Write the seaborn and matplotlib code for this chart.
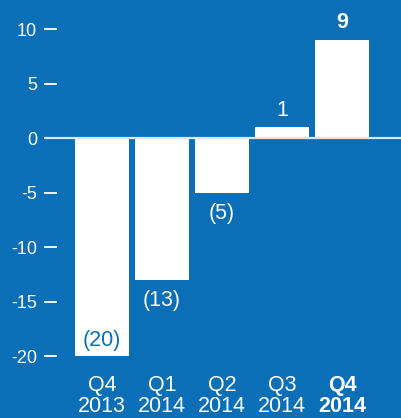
import matplotlib
matplotlib.use("Agg")
import matplotlib.pyplot as plt
import seaborn as sns
import pandas as pd

# Quarterly values
quarters = ["Q4\n2013", "Q1\n2014", "Q2\n2014", "Q3\n2014", "Q4\n2014"]
values = [-20, -13, -5, 1, 9]
value_labels = ["(20)", "(13)", "(5)", "1", "9"]
y_ticks = [10, 5, 0, -5, -10, -15, -20]

BLUE = "#0a6fb6"

sns.set_theme(style="white")
plt.rcParams["font.family"] = ["Liberation Sans", "DejaVu Sans"]

df = pd.DataFrame({"quarter": quarters, "value": values})

fig = plt.figure(figsize=(4.01, 4.18), dpi=100, facecolor=BLUE)
# axes spans x pixels 44..401 and y pixels 0..360
ax = fig.add_axes([44 / 401, 1 - 360 / 418, (401 - 44) / 401, 360 / 418])
ax.set_facecolor(BLUE)

sns.barplot(data=df, x="quarter", y="value", color="white", width=0.9,
            saturation=1, ax=ax, edgecolor="none", linewidth=0)

ax.set_xlim(-0.967, 4.983)
ax.set_ylim(-20.34, 12.69)
ax.axhline(0, color="#dde6ee", lw=1.6, zorder=5)

for s in ax.spines.values():
    s.set_visible(False)

ax.set_yticks(y_ticks)
ax.set_yticklabels([str(t) for t in y_ticks])
ax.tick_params(axis="y", left=True, direction="in", colors="white",
               labelcolor="white", length=9, width=1.3, pad=5, labelsize=13)

ax.tick_params(axis="x", bottom=False, length=0, pad=11, labelsize=15.5,
               labelcolor="white")
ax.set_xlabel("")
ax.set_ylabel("")
for i, lab in enumerate(ax.get_xticklabels()):
    lab.set_linespacing(0.98)
    if i == len(quarters) - 1:
        lab.set_fontweight("bold")

# value labels
for i, (v, txt) in enumerate(zip(values, value_labels)):
    bold = i == len(values) - 1
    if v >= 0:
        ax.annotate(txt, (i, v), xytext=(0, 12.4), textcoords="offset points",
                    ha="center", va="center", color="white", fontsize=15.5,
                    fontweight="bold" if bold else "normal")
    elif i == 0:
        ax.annotate(txt, (i, v), xytext=(0, 11.5), textcoords="offset points",
                    ha="center", va="center", color=BLUE, fontsize=15.5)
    else:
        ax.annotate(txt, (i, v), xytext=(0, -14.8), textcoords="offset points",
                    ha="center", va="center", color="white", fontsize=15.5)

fig.savefig("out.png", dpi=100, facecolor=BLUE)
